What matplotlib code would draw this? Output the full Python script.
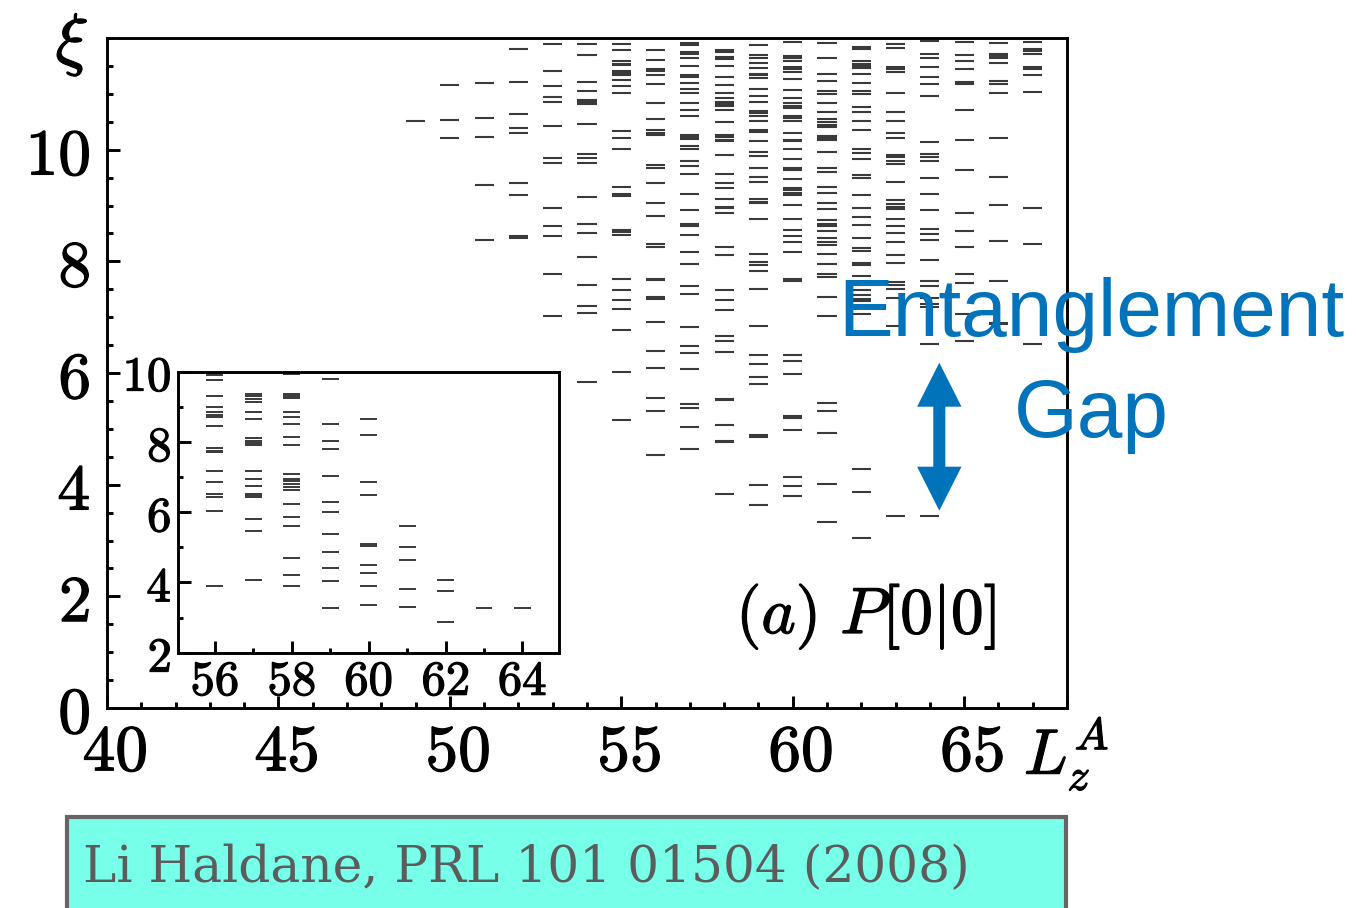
import matplotlib
matplotlib.use("Agg")
import matplotlib.pyplot as plt
from matplotlib.patches import Polygon, Rectangle
from matplotlib.ticker import MultipleLocator, FixedLocator
import matplotlib.transforms as mtransforms
import matplotlib.patheffects as pe

plt.rcParams['mathtext.fontset'] = 'cm'

# ---- entanglement levels xi for each L_z^A sector (main panel) ----
L_main = [49, 50, 51, 52, 53, 54, 55, 56, 57, 58, 59, 60, 61, 62, 63, 64, 65, 66, 67]
xi_49 = [10.52]
xi_50 = [11.16, 10.54, 10.21]
xi_51 = [11.19, 10.57, 10.23, 9.37, 8.39]
xi_52 = [11.81, 11.22, 10.63, 10.38, 10.30, 9.40, 9.18, 8.45, 8.41]
xi_53 = [11.89, 11.41, 11.14, 10.94, 10.86, 10.43, 9.85, 9.76, 8.95, 8.64, 8.45,
         7.78, 7.02]
xi_54 = [11.89, 11.69, 11.22, 11.05, 10.89, 10.85, 10.82, 10.46, 9.93, 9.85, 9.76,
         9.15, 8.67, 8.51, 8.08, 7.58, 7.20, 7.08, 5.84]
xi_55 = [11.89, 11.78, 11.58, 11.54, 11.51, 11.41, 11.37, 11.34, 11.24, 11.14,
         11.02, 10.33, 10.21, 10.01, 9.34, 9.21, 9.17, 8.56, 8.52, 8.48, 7.69, 7.49,
         7.30, 7.14, 6.77, 6.01, 5.15]
xi_56 = [11.78, 11.61, 11.44, 11.41, 11.33, 11.17, 10.83, 10.55, 10.35, 10.30,
         10.27, 9.73, 9.68, 9.40, 9.04, 8.82, 8.31, 8.26, 7.69, 7.67, 7.37, 7.33,
         6.91, 6.40, 6.09, 5.56, 5.32, 4.53]
xi_57 = [11.91, 11.87, 11.75, 11.72, 11.64, 11.50, 11.33, 11.30, 11.19, 11.08,
         11.02, 10.83, 10.71, 10.60, 10.27, 10.23, 10.19, 10.06, 10.01, 9.79, 9.71,
         9.57, 9.20, 8.92, 8.67, 8.63, 8.48, 8.17, 7.95, 7.55, 7.42, 6.83, 6.49,
         6.35, 6.07, 5.45, 5.37, 5.03, 4.64]
xi_58 = [11.78, 11.75, 11.66, 11.63, 11.49, 11.30, 11.16, 11.02, 10.92, 10.85,
         10.81, 10.79, 10.71, 10.49, 10.27, 10.23, 10.18, 10.15, 9.90, 9.57, 9.40,
         9.32, 9.12, 8.98, 8.95, 8.87, 8.25, 8.11, 7.49, 7.30, 7.13, 6.66, 6.57,
         6.37, 5.53, 5.51, 5.06, 4.78, 4.76, 3.83]
xi_59 = [11.87, 11.69, 11.65, 11.55, 11.47, 11.36, 11.33, 11.28, 11.08, 10.97,
         10.86, 10.69, 10.65, 10.61, 10.51, 10.35, 10.31, 10.15, 9.96, 9.88, 9.67,
         9.51, 9.42, 9.12, 9.07, 9.04, 8.76, 8.14, 7.98, 7.94, 7.83, 7.50, 6.85,
         6.33, 6.16, 5.93, 5.80, 4.89, 4.85, 4.00, 3.63]
xi_60 = [11.93, 11.67, 11.64, 11.58, 11.48, 11.44, 11.39, 11.27, 11.06, 10.92,
         10.83, 10.79, 10.75, 10.61, 10.57, 10.51, 10.29, 10.18, 10.15, 10.02, 9.83,
         9.68, 9.64, 9.47, 9.32, 9.27, 9.23, 9.18, 9.01, 8.75, 8.56, 8.45, 8.35,
         8.17, 7.68, 7.64, 6.33, 6.21, 5.99, 5.23, 5.19, 4.98, 4.14, 3.97, 3.80]
xi_61 = [11.91, 11.64, 11.35, 11.23, 11.05, 11.00, 10.83, 10.68, 10.55, 10.50,
         10.45, 10.41, 10.25, 10.21, 10.17, 9.96, 9.68, 9.60, 9.33, 9.23, 9.04,
         8.93, 8.74, 8.67, 8.63, 8.55, 8.42, 8.34, 8.30, 8.14, 7.95, 7.78, 7.72,
         7.37, 7.02, 5.46, 5.32, 4.92, 4.02, 3.33]
xi_62 = [11.84, 11.81, 11.58, 11.54, 11.50, 11.46, 11.35, 11.19, 11.05, 11.00,
         10.77, 10.68, 10.52, 10.35, 10.02, 9.94, 9.83, 9.55, 9.49, 9.19, 8.95,
         8.79, 8.65, 8.42, 8.23, 8.18, 7.97, 7.93, 7.73, 7.58, 7.48, 7.40, 7.33,
         7.29, 7.05, 4.28, 3.86, 3.05]
xi_63 = [11.90, 11.82, 11.48, 11.44, 11.40, 11.02, 10.68, 10.52, 10.30, 10.21,
         9.90, 9.86, 9.80, 9.74, 9.42, 9.10, 9.02, 8.98, 8.93, 8.76, 8.63, 8.51,
         8.34, 8.12, 7.97, 7.63, 7.57, 7.51, 7.35, 6.85, 3.44]
xi_64 = [11.94, 11.72, 11.64, 11.48, 11.30, 11.17, 10.96, 10.13, 9.93, 9.86, 9.80,
         9.49, 9.20, 8.92, 8.58, 8.49, 8.39, 8.03, 7.64, 7.55, 7.35, 7.23, 7.18,
         6.52, 3.44]
xi_65 = [11.93, 11.69, 11.58, 11.44, 11.21, 11.17, 10.71, 10.18, 9.63, 8.86, 8.55,
         8.26, 7.78, 7.61, 7.06, 6.57]
xi_66 = [11.91, 11.72, 11.68, 11.64, 11.56, 11.23, 11.18, 11.02, 10.21, 9.51,
         9.01, 8.37, 7.64, 6.90, 6.87]
xi_67 = [11.93, 11.81, 11.76, 11.72, 11.48, 11.45, 11.33, 11.04, 8.95, 8.31, 6.52]

# ---- inset panel levels ----
L_inset = [56, 57, 58, 59, 60, 61, 62, 63, 64]
ins_56 = [9.94, 9.90, 9.75, 9.31, 8.99, 8.84, 8.77, 8.70, 8.46, 7.82, 7.75, 7.70,
          7.16, 6.85, 6.53, 6.42, 6.04, 3.90]
ins_57 = [9.36, 9.30, 9.22, 9.13, 8.86, 8.64, 8.10, 8.04, 7.96, 7.90, 7.16, 6.95,
          6.76, 6.53, 6.49, 6.44, 5.81, 5.46, 4.08]
ins_58 = [9.94, 9.36, 9.30, 9.24, 8.86, 8.70, 8.51, 8.14, 7.92, 7.08, 6.95, 6.88,
          6.80, 6.72, 6.63, 6.22, 5.87, 5.60, 4.70, 4.20, 3.90]
ins_59 = [9.80, 8.50, 8.02, 7.79, 7.02, 6.30, 6.00, 5.37, 4.87, 4.42, 4.04, 3.27]
ins_60 = [8.64, 8.19, 6.85, 6.49, 5.10, 5.03, 4.49, 4.27, 3.90, 3.35]
ins_61 = [5.60, 5.00, 4.65, 3.80, 3.30]
ins_62 = [4.07, 3.77, 2.86]
ins_63 = [3.27]
ins_64 = [3.27]

main_cols = [xi_49, xi_50, xi_51, xi_52, xi_53, xi_54, xi_55, xi_56, xi_57, xi_58,
             xi_59, xi_60, xi_61, xi_62, xi_63, xi_64, xi_65, xi_66, xi_67]
inset_cols = [ins_56, ins_57, ins_58, ins_59, ins_60, ins_61, ins_62, ins_63, ins_64]

main_xticks = [40, 45, 50, 55, 60, 65]
main_yticks = [0, 2, 4, 6, 8, 10]
inset_xticks = [56, 58, 60, 62, 64]
inset_yticks = [2, 4, 6, 8, 10]

W, H = 1357, 908
fig = plt.figure(figsize=(W / 100, H / 100), dpi=100)
fig.patch.set_facecolor('white')


def fx(px):
    return px / W


def fy(py):
    return 1 - py / H


LEVEL_COLOR = '#3a3a3a'
SPINE_W = 2.1
heavy = [pe.withStroke(linewidth=0.9, foreground='black')]

# ---------------- main panel ----------------
ax = fig.add_axes([fx(107), fy(708), fx(1067) - fx(107), fy(38) - fy(708)])
for L, levels in zip(L_main, main_cols):
    ax.hlines(levels, L - 0.28, L + 0.28, colors=LEVEL_COLOR, lw=1.5)
ax.set_xlim(40, 68)
ax.set_ylim(0, 12)
ax.set_xticks(main_xticks)
ax.set_xticklabels([f'${v}$' for v in main_xticks])
ax.xaxis.set_minor_locator(MultipleLocator(1))
ax.set_yticks(main_yticks)
ax.set_yticklabels([f'${v}$' for v in main_yticks])
ax.yaxis.set_minor_locator(MultipleLocator(0.5))
ax.tick_params(which='both', direction='in', top=False, right=False, width=SPINE_W)
ax.tick_params(which='major', length=9)
ax.tick_params(which='minor', length=4.5)
ax.tick_params(axis='x', which='major', labelsize=47, pad=9)
ax.tick_params(axis='y', which='major', labelsize=47, pad=12)
for s in ax.spines.values():
    s.set_linewidth(SPINE_W)
shift = mtransforms.ScaledTranslation(8 / 100, 0, fig.dpi_scale_trans)
for lab in ax.get_xticklabels():
    lab.set_transform(lab.get_transform() + shift)
for lab in ax.get_xticklabels() + ax.get_yticklabels():
    lab.set_path_effects(heavy)

fig.text(fx(72), fy(45), r'$\xi$', fontsize=50, ha='center', va='center',
         path_effects=heavy)
fig.text(fx(1024), fy(774), r'$L_z^A$', fontsize=46, ha='left', va='baseline',
         path_effects=heavy)
fig.text(fx(866), fy(617), r'$(a)\ P[0|0]$', fontsize=47, ha='center', va='center',
         path_effects=heavy)

# ---------------- inset ----------------
axi = fig.add_axes([fx(178.3), fy(652.7), fx(559) - fx(178.3), fy(371.7) - fy(652.7)])
axi.set_facecolor('white')
for L, levels in zip(L_inset, inset_cols):
    axi.hlines(levels, L - 0.22, L + 0.22, colors=LEVEL_COLOR, lw=1.4)
axi.set_xlim(55.05, 64.95)
axi.set_ylim(2, 10)
axi.set_xticks(inset_xticks)
axi.set_xticklabels([f'${v}$' for v in inset_xticks])
axi.xaxis.set_minor_locator(FixedLocator([57, 59, 61, 63]))
axi.set_yticks(inset_yticks)
axi.set_yticklabels([f'${v}$' for v in inset_yticks])
axi.yaxis.set_minor_locator(FixedLocator([3, 5, 7, 9]))
axi.tick_params(which='both', direction='in', top=False, right=False, width=SPINE_W)
axi.tick_params(which='major', length=9)
axi.tick_params(which='minor', length=3.5)
axi.tick_params(axis='x', which='major', labelsize=35, pad=3)
axi.tick_params(axis='y', which='major', labelsize=35, pad=5)
for s in axi.spines.values():
    s.set_linewidth(SPINE_W)
for lab in axi.get_xticklabels() + axi.get_yticklabels():
    lab.set_path_effects(heavy)

# ---------------- annotation: entanglement gap ----------------
BLUE = '#0073BA'
fig.text(fx(1091), fy(336), 'Entanglement', fontsize=59, color=BLUE,
         family='Liberation Sans', ha='center', va='baseline')
fig.text(fx(1091), fy(437), 'Gap', fontsize=59, color=BLUE,
         family='Liberation Sans', ha='center', va='baseline')

cx, hw, sw = 939.3, 22.2, 6.0
arrow_px = [(cx, 362.7), (cx + hw, 406.7), (cx + sw, 406.7), (cx + sw, 466.7),
            (cx + hw, 466.7), (cx, 510.7), (cx - hw, 466.7), (cx - sw, 466.7),
            (cx - sw, 406.7), (cx - hw, 406.7)]
fig.patches.append(Polygon([(fx(x), fy(y)) for x, y in arrow_px], closed=True,
                           transform=fig.transFigure, facecolor=BLUE,
                           edgecolor='none', zorder=5))

# ---------------- reference box ----------------
fig.patches.append(Rectangle((fx(66.5), fy(912)), fx(1066) - fx(66.5), fy(816.7) - fy(912),
                             transform=fig.transFigure, facecolor='#78FFE9',
                             edgecolor='#656565', linewidth=3.0, zorder=1))
ref = fig.text(fx(82.6), fy(881.7), 'Li Haldane, PRL 101 01504 (2008)', fontsize=34,
               color='#5c5c5c', family='DejaVu Serif', ha='left', va='baseline',
               zorder=2)
fig.canvas.draw()
bb = ref.get_window_extent()
ref.set_fontsize(34 * 888 / bb.width)

fig.savefig('out.png', dpi=100)
